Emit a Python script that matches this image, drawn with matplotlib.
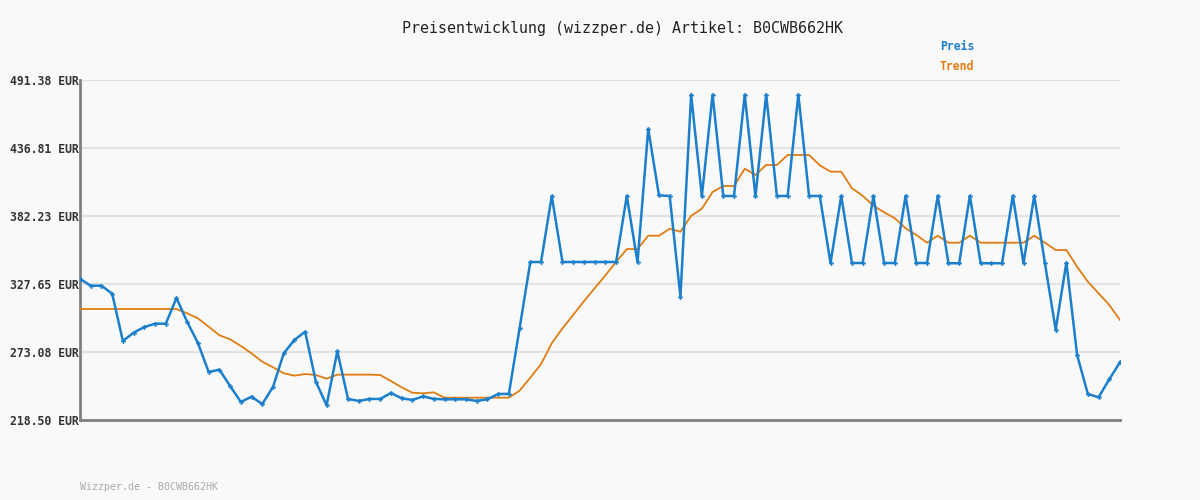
import numpy as np
import matplotlib.pyplot as plt

# Preis-Verlauf
preis = [331.7, 326.3, 326.3, 319.9, 281.9, 288.6, 293.1, 295.8, 295.8, 316.4,
         297.2, 280.3, 257.0, 258.9, 245.8, 233.0, 237.2, 231.3, 245.0, 272.0,
         282.7, 289.4, 249.2, 230.3, 273.6, 235.4, 233.8, 235.4, 235.4, 240.2,
         235.9, 234.6, 237.5, 235.4, 235.1, 235.1, 235.1, 233.8, 235.1, 239.4,
         239.4, 292.1, 345.3, 345.3, 398.3, 345.3, 345.3, 345.3, 345.3, 345.3,
         345.3, 398.3, 345.0, 452.1, 398.8, 398.3, 317.5, 479.6, 398.0, 479.6,
         398.3, 398.3, 479.6, 398.0, 479.6, 398.3, 398.3, 479.6, 398.3, 398.3,
         344.5, 398.3, 344.5, 344.5, 398.3, 344.5, 344.5, 398.3, 344.5, 344.5,
         398.5, 344.3, 344.3, 398.5, 344.3, 344.3, 344.3, 398.5, 344.3, 398.5,
         344.3, 291.0, 344.8, 270.7, 239.4, 236.7, 251.2, 264.8]

trend = [307.6, 307.6, 307.6, 307.6, 307.6, 307.6, 307.6, 307.6, 307.6, 307.6,
         304.1, 300.1, 293.4, 286.5, 283.3, 277.9, 272.0, 265.3, 260.8, 256.0,
         254.1, 255.4, 254.6, 251.7, 254.9, 254.9, 254.9, 254.9, 254.6, 249.8,
         244.7, 240.4, 239.9, 240.7, 236.4, 236.4, 236.4, 236.4, 236.4, 236.4,
         236.4, 242.0, 252.5, 263.4, 280.1, 292.1, 302.8, 313.8, 324.2, 334.6,
         345.3, 355.7, 355.7, 366.4, 366.4, 372.0, 369.6, 382.3, 388.1, 401.5,
         406.3, 406.3, 420.2, 415.1, 423.2, 423.2, 431.2, 431.2, 431.2, 422.9,
         417.8, 417.8, 404.5, 398.5, 390.5, 385.2, 380.4, 372.4, 367.0, 360.8,
         366.4, 360.8, 360.8, 366.4, 360.8, 360.8, 360.8, 360.8, 360.8, 366.4,
         360.8, 354.9, 354.9, 341.5, 329.5, 320.2, 310.8, 298.8]

yticks = [218.50, 273.08, 327.65, 382.23, 436.81, 491.38]
artikel = "B0CWB662HK"

blau = "#1b7fcc"
orange = "#e07c12"
bg = "#f9f9f9"

fig = plt.figure(figsize=(12, 5), dpi=100, facecolor=bg)
ax = fig.add_axes([80/1200, 80/500, 1040/1200, 340/500], facecolor=bg)

x = np.arange(len(preis))
ax.plot(x, trend, color=orange, lw=1.3, zorder=3)
ax.plot(x, preis, color=blau, lw=1.8, marker="P", ms=3.5, mew=0, zorder=4)

ax.set_xlim(0, len(preis) - 1)
ax.set_ylim(yticks[0], yticks[-1])
ax.set_yticks(yticks)
ax.set_yticklabels(["%.2f EUR" % v for v in yticks],
                   family="DejaVu Sans Mono", fontsize=8.3, fontweight="bold", color="#333333")
ax.set_xticks([])
ax.tick_params(axis="y", length=0, pad=1)
ax.grid(axis="y", color="#e3e3e3", lw=1.6)
ax.set_axisbelow(True)

for s in ["top", "right"]:
    ax.spines[s].set_visible(False)
for s in ["left", "bottom"]:
    ax.spines[s].set_color("#808080")
    ax.spines[s].set_linewidth(2)

fig.text(623/1200, 1 - 28/500, "Preisentwicklung (wizzper.de) Artikel: " + artikel,
         ha="center", va="center", family="DejaVu Sans Mono", fontsize=10.8, color="#222222")
fig.text(957/1200, 1 - 47/500, "Preis", ha="center", va="center",
         family="DejaVu Sans Mono", fontsize=8.3, fontweight="bold", color=blau)
fig.text(957/1200, 1 - 67/500, "Trend", ha="center", va="center",
         family="DejaVu Sans Mono", fontsize=8.3, fontweight="bold", color=orange)
fig.text(80/1200, 1 - 487/500, "Wizzper.de - " + artikel, ha="left", va="center",
         family="DejaVu Sans Mono", fontsize=7.2, color="#aaaaaa")

plt.savefig("out.png", dpi=100, facecolor=bg)
